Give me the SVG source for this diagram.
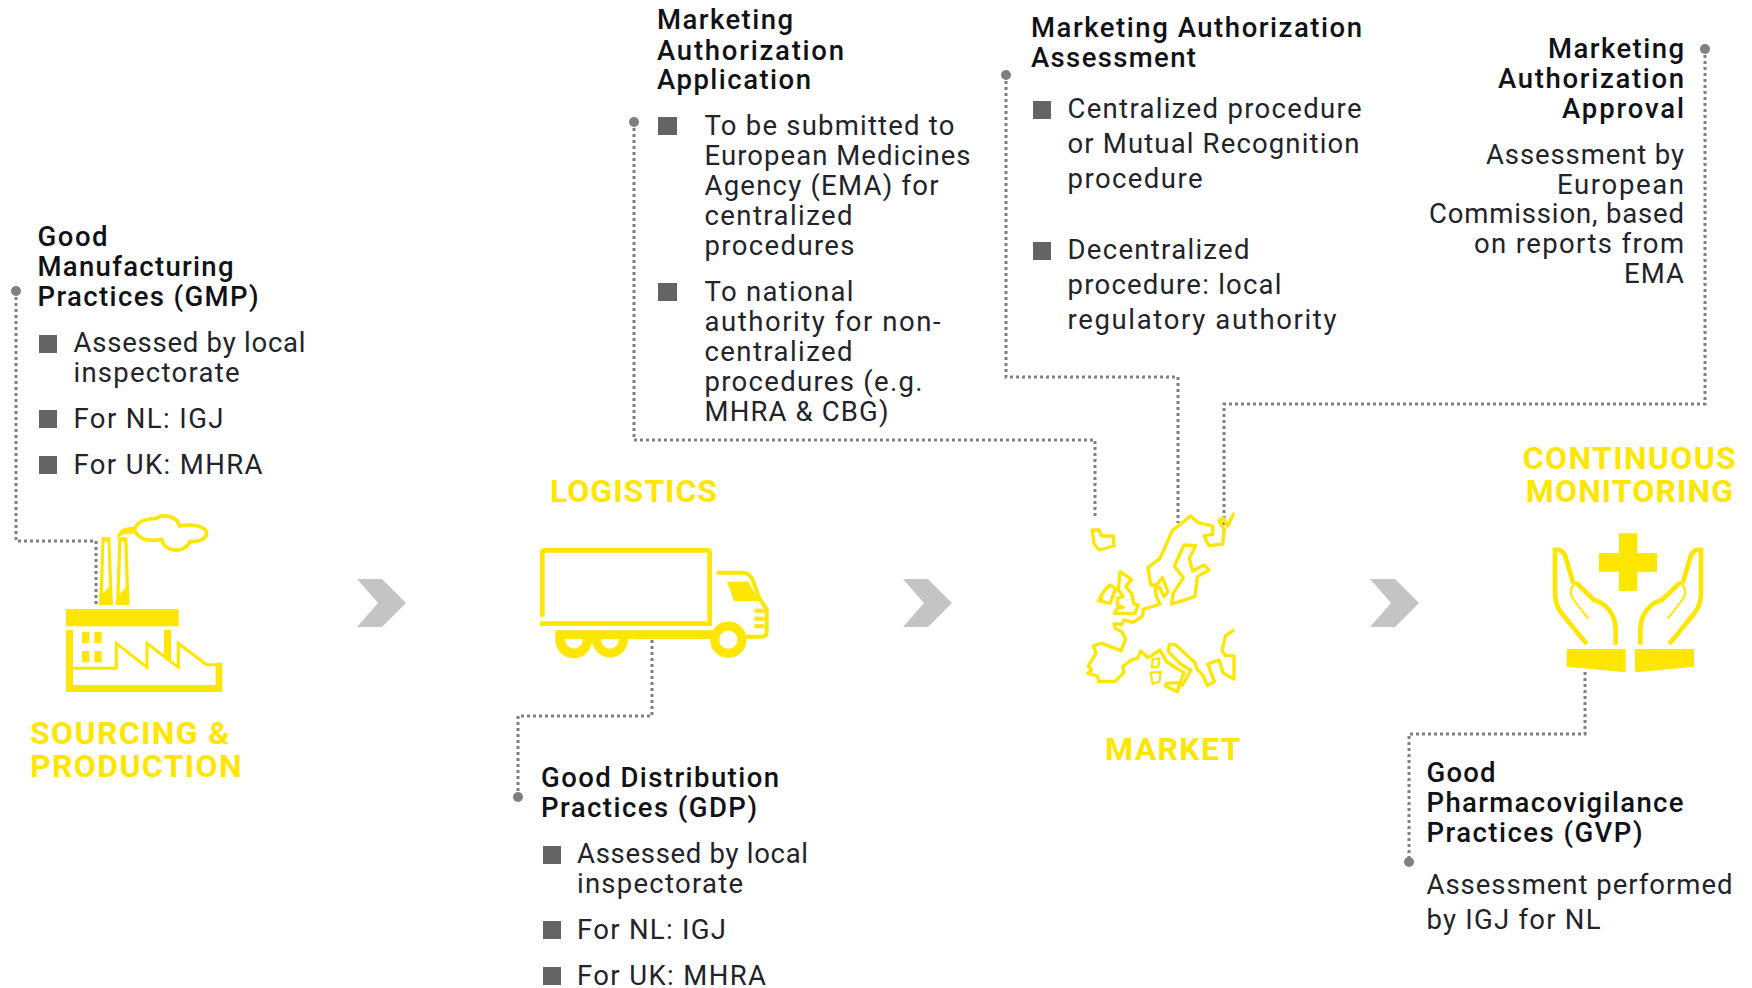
<svg xmlns="http://www.w3.org/2000/svg" width="1752" height="988" viewBox="0 0 1752 988">
<style>
text{font-family:Roboto,"Liberation Sans",sans-serif;font-size:27.5px;fill:#23232b}
.h{font-weight:500;fill:#111118}
.y{font-weight:700;font-size:32px;fill:#ffe600;letter-spacing:1.35px}
.r{text-anchor:end}
.b{fill:#646464}
.c{fill:#c4c4c4}
.d{fill:none;stroke:#808080;stroke-width:3;stroke-dasharray:3 3}
.dot{fill:#808080}
.yf{fill:#ffe600}
.ys{fill:none;stroke:#ffe600;stroke-linejoin:miter}
.eu{fill:none;stroke:#ffe600;stroke-linejoin:round;stroke-linecap:round}
</style>
<rect width="1752" height="988" fill="#fff"/>
<g id="connectors">
<path class="d" d="M16 291V541H96V606"/>
<circle class="dot" cx="16" cy="291" r="5"/>
<path class="d" d="M652 640V716H518V797"/>
<circle class="dot" cx="518" cy="797" r="5"/>
<path class="d" d="M634 122V440H1095V518"/>
<circle class="dot" cx="634" cy="122" r="5"/>
<path class="d" d="M1006 75V377H1178V523"/>
<circle class="dot" cx="1006" cy="75" r="5"/>
<path class="d" d="M1705 49V404H1224V533"/>
<circle class="dot" cx="1705" cy="49" r="5"/>
<path class="d" d="M1585 672V734H1409V861"/>
<circle class="dot" cx="1409" cy="862" r="5"/>
</g>
<g id="chevrons">
<path class="c" d="M357 579H382L406 603L382 627H357L378 603Z"/>
<path class="c" d="M903 579H928L952 603L928 627H903L924 603Z"/>
<path class="c" d="M1370 579H1395L1419 603L1395 627H1370L1391 603Z"/>
</g>
<g id="sourcing">
<g transform="translate(0,480) scale(.33333)">
<path class="yf" fill-rule="evenodd" d="M297 375L305 172H331L339 375ZM313 185L309 340L327 320L323 185ZM348 375L355 172H382L389 375ZM364 185L359 342L377 322L373 185Z"/>
<path class="ys" stroke-width="11" d="M360 162C365 150 385 145 405 145C410 125 440 115 470 115C480 105 525 100 540 138C580 130 620 140 620 160C620 175 600 185 570 185C555 220 495 220 485 178C450 185 420 180 405 155C390 155 370 155 360 162Z"/>
<rect class="yf" x="198" y="387" width="338" height="52"/>
<path class="yf" d="M198 450H219V615H647V548H667V636H198ZM492 450H513V545L492 530Z"/>
<path class="ys" stroke-width="9" d="M215 565H349V490L441 562V490L535 562V490L620 554H660"/>
<path class="yf" d="M246 456h22v34h-22zM283 456h22v34h-22zM246 513h22v34h-22zM283 513h22v34h-22z"/>
</g>
<text class="y" x="30" y="744">SOURCING &amp;</text>
<text class="y" x="30" y="777">PRODUCTION</text>
</g>
<g id="logistics">
<g transform="translate(500,520) scale(.33333)">
<path class="ys" stroke-width="14" d="M127 290V98Q127 91 134 91H622Q629 91 629 98V311H120"/>
<path class="yf" d="M166 331H640V357H384A54 54 0 0 1 276 360A54 54 0 0 1 166 360ZM195 357A27 29 0 0 0 249 357ZM303 357A27 29 0 0 0 357 357Z"/>
<circle class="ys" stroke-width="27" cx="685" cy="359" r="41"/>
<path class="ys" stroke-width="12" d="M650 158H730Q750 158 760 185L778 235L800 268V335Q800 350 785 350H738"/>
<path class="yf" d="M681 185H745L778 243H702ZM763 266h30v12h-30zM763 290h30v12h-30zM763 313h30v12h-30z"/>
</g>
<text class="y" x="550" y="502" style="letter-spacing:1px">LOGISTICS</text>
</g>
<g id="market">
<g transform="translate(1060,490) scale(.33333)">
<path class="eu" stroke-width="10" d="M97 120H117L125 138H160L162 168L118 180L102 162Z"/>
<path class="eu" stroke-width="10" d="M520 73L503 108L490 85L476 92L493 120L488 162L447 167L432 137L458 133L458 108L412 97L392 78L337 122L300 205L264 232L272 285L290 285L307 263L324 305L312 320L300 293L285 295L290 322L300 342L250 358L248 378L220 397L192 390L185 405L163 400L165 415L185 425L197 447L183 482L125 460L100 467L108 490L85 527L95 540L83 550L113 558L115 574L165 574L192 548L188 530L213 510L233 505L242 483L265 503L300 480L320 515L350 535L372 548L360 578L320 580L316 588L352 605L358 585L368 585L393 540L365 525L355 515L325 485L328 463L345 463L405 518L410 535L430 558L442 587L463 575L443 522L477 510L490 550L522 567V497H497L486 482L497 437L520 421"/>
<path class="eu" stroke-width="10" d="M372 165L407 167L388 205L398 243L432 225L447 240L412 260L405 320L335 342L340 310L370 263L343 228Z"/>
<path class="eu" stroke-width="10" d="M180 245L215 268L197 290L215 310L222 343L235 345L225 370H163L172 355L190 352L172 345V325L190 320L175 300Z"/>
<path class="eu" stroke-width="10" d="M150 285L167 295L150 340L115 332L125 325L120 322L135 300Z"/>
<path class="eu" stroke-width="7" d="M278 508L298 505L295 530L276 532ZM272 548L302 546L298 575L278 582Z"/>
</g>
<text class="y" x="1105" y="760">MARKET</text>
</g>
<g id="monitoring">
<g transform="translate(1520,520) scale(.33333)">
<path class="yf" d="M297 40H352V99H411V155H352V213H297V155H237V99H297Z"/>
<path class="yf" d="M140 387H317V457L140 440ZM345 387H522V440L350 457L345 453Z"/>
<g id="hand-l">
<path class="ys" stroke-width="14" d="M200 372L125 280Q105 255 105 215V90Q122 85 135 105L160 190"/>
<path class="ys" stroke-width="14" d="M287 374V330C287 285 260 250 222 240L167 187"/>
<path class="ys" stroke-width="6" d="M167 187C148 205 148 225 165 245L205 296"/>
</g>
<g transform="translate(648,0) scale(-1,1)">
<path class="ys" stroke-width="14" d="M200 372L125 280Q105 255 105 215V90Q122 85 135 105L160 190"/>
<path class="ys" stroke-width="14" d="M287 374V330C287 285 260 250 222 240L167 187"/>
<path class="ys" stroke-width="6" d="M167 187C148 205 148 225 165 245L205 296"/>
</g>
</g>
<text class="y" x="1630" y="469" text-anchor="middle">CONTINUOUS</text>
<text class="y" x="1630" y="502" text-anchor="middle" style="letter-spacing:1.1px">MONITORING</text>
</g>
<g id="gmp">
<text class="h" x="37.5" y="246" textLength="70">Good</text>
<text class="h" x="37.5" y="276" textLength="196">Manufacturing</text>
<text class="h" x="37.5" y="306" textLength="221">Practices (GMP)</text>
<rect class="b" x="39" y="335" width="18" height="18"/>
<text x="73.5" y="352" textLength="232">Assessed by local</text>
<text x="73.5" y="382" textLength="166">inspectorate</text>
<rect class="b" x="39" y="410" width="18" height="18"/>
<text x="73.5" y="428" textLength="150">For NL: IGJ</text>
<rect class="b" x="39" y="456" width="18" height="18"/>
<text x="73.5" y="474" textLength="189">For UK: MHRA</text>
</g>
<g id="gdp">
<text class="h" x="541" y="787" textLength="238">Good Distribution</text>
<text class="h" x="541" y="817" textLength="216">Practices (GDP)</text>
<rect class="b" x="543" y="846" width="18" height="18"/>
<text x="577" y="863" textLength="231">Assessed by local</text>
<text x="577" y="893" textLength="166">inspectorate</text>
<rect class="b" x="543" y="921" width="18" height="18"/>
<text x="577" y="939" textLength="149">For NL: IGJ</text>
<rect class="b" x="543" y="967" width="18" height="18"/>
<text x="577" y="985" textLength="189">For UK: MHRA</text>
</g>
<g id="application">
<text class="h" x="657" y="29" textLength="136">Marketing</text>
<text class="h" x="657" y="60" textLength="187">Authorization</text>
<text class="h" x="657" y="89" textLength="154">Application</text>
<rect class="b" x="658" y="117" width="19" height="18"/>
<text x="704.5" y="135" textLength="250">To be submitted to</text>
<text x="704.5" y="165" textLength="266">European Medicines</text>
<text x="704.5" y="195" textLength="234">Agency (EMA) for</text>
<text x="704.5" y="225" textLength="148">centralized</text>
<text x="704.5" y="255" textLength="150">procedures</text>
<rect class="b" x="658" y="283" width="19" height="18"/>
<text x="704.5" y="301" textLength="149">To national</text>
<text x="704.5" y="331" textLength="236">authority for non-</text>
<text x="704.5" y="361" textLength="148">centralized</text>
<text x="704.5" y="391" textLength="218">procedures (e.g.</text>
<text x="704.5" y="421" textLength="184">MHRA &amp; CBG)</text>
</g>
<g id="assessment">
<text class="h" x="1031" y="37" textLength="331">Marketing Authorization</text>
<text class="h" x="1031" y="67" textLength="165">Assessment</text>
<rect class="b" x="1033" y="101" width="18" height="18"/>
<text x="1067.5" y="118" textLength="294">Centralized procedure</text>
<text x="1067.5" y="153" textLength="292">or Mutual Recognition</text>
<text x="1067.5" y="188" textLength="135">procedure</text>
<rect class="b" x="1033" y="242" width="18" height="18"/>
<text x="1067.5" y="259" textLength="182">Decentralized</text>
<text x="1067.5" y="294" textLength="214">procedure: local</text>
<text x="1067.5" y="329" textLength="269">regulatory authority</text>
</g>
<g id="approval">
<text class="h r" x="1684" y="58" textLength="136">Marketing</text>
<text class="h r" x="1684" y="88" textLength="186">Authorization</text>
<text class="h r" x="1684" y="118" textLength="122">Approval</text>
<text class="r" x="1684" y="164" textLength="198">Assessment by</text>
<text class="r" x="1684" y="194" textLength="127">European</text>
<text class="r" x="1684" y="223" textLength="255">Commission, based</text>
<text class="r" x="1684" y="253" textLength="210">on reports from</text>
<text class="r" x="1684" y="283" textLength="60">EMA</text>
</g>
<g id="gvp">
<text class="h" x="1426.5" y="782" textLength="69">Good</text>
<text class="h" x="1426.5" y="812" textLength="257">Pharmacovigilance</text>
<text class="h" x="1426.5" y="842" textLength="216">Practices (GVP)</text>
<text x="1426.5" y="894" textLength="306">Assessment performed</text>
<text x="1426.5" y="929" textLength="174">by IGJ for NL</text>
</g>
</svg>
